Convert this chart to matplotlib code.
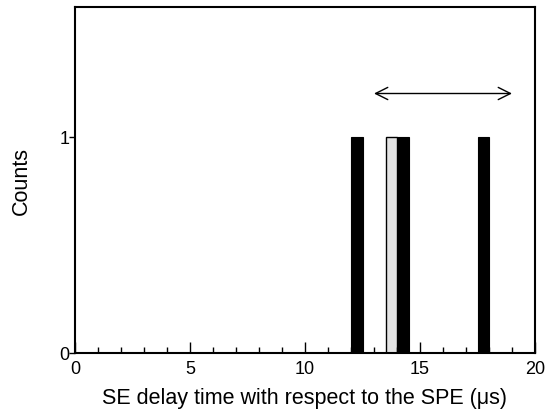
import numpy as np
import matplotlib
matplotlib.use("Agg")
import matplotlib.pyplot as plt
from matplotlib.ticker import MultipleLocator

plt.rcParams['font.family'] = ['Liberation Sans', 'DejaVu Sans']

# histogram bins (us) and counts
bin_width = 0.5
black_left = [12.0, 14.0, 17.5]
black_counts = [1, 1, 1]
gray_left = [13.5]
gray_counts = [1]

# time window marked by the arrow
window = [13.0, 19.0]
window_y = 1.2

fig = plt.figure(figsize=(5.53, 4.10), dpi=100)
ax = fig.add_axes([75 / 553, 56 / 410, 460 / 553, 346 / 410])

ax.bar(black_left, black_counts, width=bin_width, align='edge',
       color='black', edgecolor='black', linewidth=0.8)
ax.bar(gray_left, gray_counts, width=bin_width, align='edge',
       color='#e4e4e4', edgecolor='black', linewidth=1.0)

ax.annotate('', xy=(window[1], window_y), xytext=(window[0], window_y),
            arrowprops=dict(arrowstyle='<->', color='black', lw=1.0,
                            mutation_scale=22, shrinkA=0, shrinkB=0))

ax.set_xlim(0, 20)
ax.set_ylim(0, 1.6)
ax.xaxis.set_major_locator(MultipleLocator(5))
ax.xaxis.set_minor_locator(MultipleLocator(1))
ax.set_yticks([0, 1])
ax.tick_params(axis='x', which='major', direction='in', length=8, width=1,
               labelsize=13, pad=5)
ax.tick_params(axis='x', which='minor', direction='in', length=4, width=1)
ax.tick_params(axis='y', which='major', direction='out', length=4, width=1,
               labelsize=13, pad=0)
ax.tick_params(top=False, right=False)

for side in ax.spines.values():
    side.set_linewidth(1.5)

ax.set_xlabel('SE delay time with respect to the SPE (\u03bcs)', fontsize=15.5,
              labelpad=7)
ax.set_ylabel('Counts', fontsize=15.5, labelpad=20)

fig.savefig('out.png', dpi=100)
